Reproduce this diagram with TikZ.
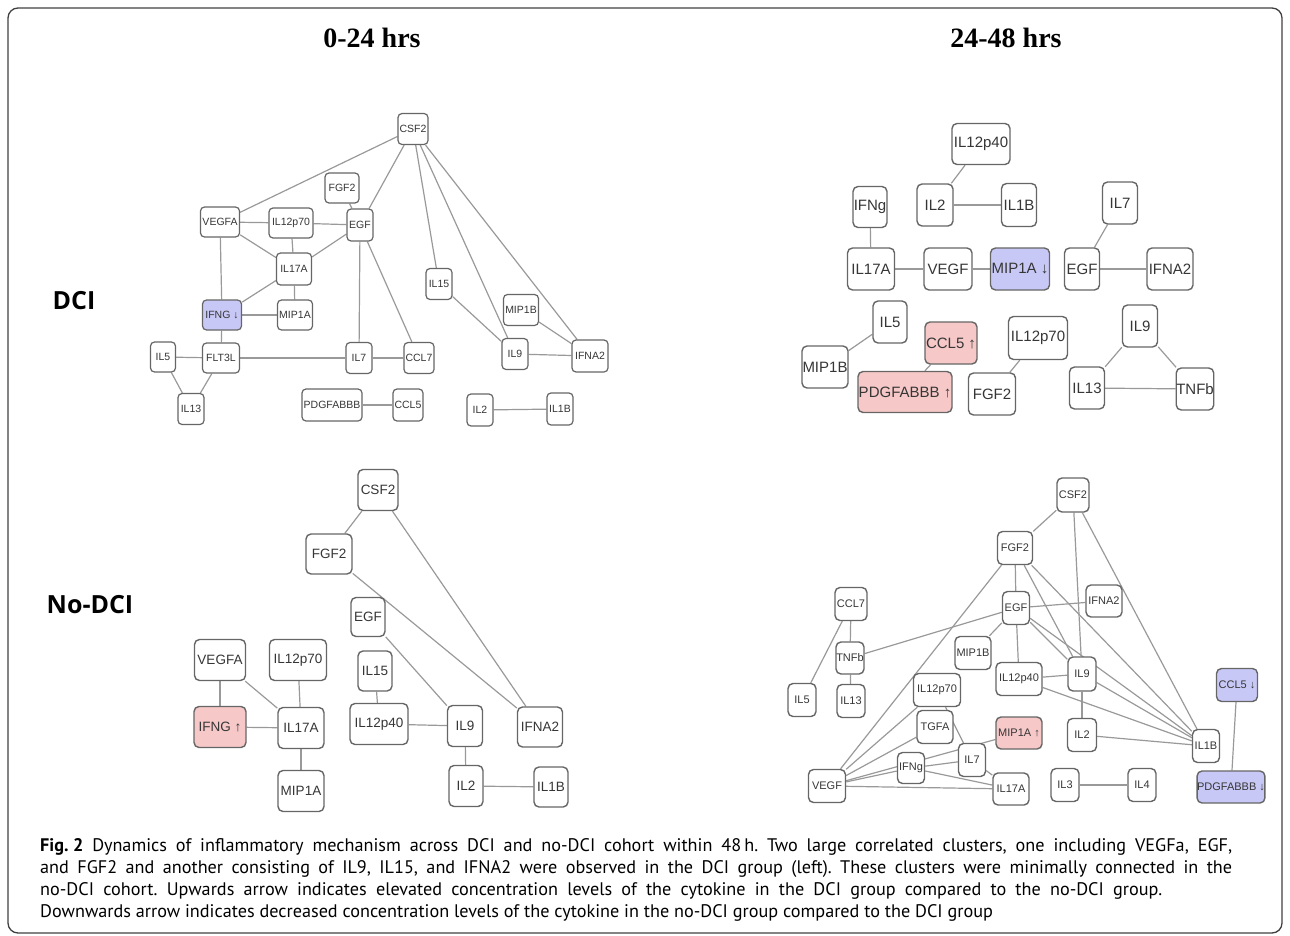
\documentclass[tikz,border=0pt]{standalone}
\usepackage{fontspec}
\setmainfont{Liberation Sans}
\newfontfamily\tnrf{Liberation Serif}
\newfontfamily\capf{PT Sans}
\newfontfamily\labf{Open Sans}
\usetikzlibrary{backgrounds}
\definecolor{ndc}{HTML}{666666}
\definecolor{edc}{HTML}{999999}
\definecolor{blu}{HTML}{C8C8F6}
\definecolor{pnk}{HTML}{F6C8C8}
\definecolor{txc}{HTML}{363636}
\newcommand{\mk}[6]{\node[nd,#1,minimum width=#4pt,minimum height=#5pt] (#2) at (#3) {#6};}
\newcommand{\ee}[2]{\draw[ed] (#1) -- (#2);}
\frenchspacing
\begin{document}
\begin{tikzpicture}[x=1pt,y=-1pt,
  nd/.style={draw=ndc, line width=1.4pt, rounded corners=5pt, fill=white, inner sep=0pt, text=txc},
  ed/.style={draw=edc, line width=1.2pt},
  ftl/.style={font=\fontsize{10.5}{12}\selectfont, line width=1.2pt, rounded corners=4pt},
  ftr/.style={font=\fontsize{15}{17}\selectfont},
  fbl/.style={font=\fontsize{13.5}{15}\selectfont},
  fbr/.style={font=\fontsize{11}{13}\selectfont},
  bl/.style={fill=blu},
  pk/.style={fill=pnk},
  hdr/.style={font=\tnrf\bfseries\fontsize{28}{30}\selectfont},
  rowlab/.style={font=\labf\bfseries\fontsize{25}{28}\selectfont},
  capl/.style={font=\capf\frenchspacing\fontsize{18.2}{21}\selectfont, anchor=base west, inner sep=0pt}
]
\useasboundingbox (0,0) rectangle (1290,936);
\draw[line width=1.3pt, draw=black!75, rounded corners=10pt] (8,8) rectangle (1282,933);

% headers and row labels
\node[hdr] (h1) at (372,38) {0-24 hrs};
\node[hdr] (h2) at (1006,38) {24-48 hrs};
\node[rowlab] (r1) at (74,301) {DCI};
\node[rowlab] (r2) at (90,605) {No-DCI};

% ---------- Panel A: DCI 0-24 ----------
\mk{ftl}{aCSF2}{413,129}{30}{31}{CSF2}
\mk{ftl}{aFGF2}{342,188}{34}{30}{FGF2}
\mk{ftl}{aVEGFA}{220,222}{39}{30}{VEGFA}
\mk{ftl}{aIL12p70}{291,223}{44}{30}{IL12p70}
\mk{ftl}{aEGF}{360,225}{26}{32}{EGF}
\mk{ftl}{aIL17A}{294,269}{35}{32}{IL17A}
\mk{ftl}{aIL15}{439,284}{26}{31}{IL15}
\mk{ftl}{aMIP1A}{295,315}{35}{30}{MIP1A}
\mk{ftl,bl}{aIFNG}{222,315}{39}{30}{IFNG ↓}
\mk{ftl}{aMIP1B}{521,310}{35}{31}{MIP1B}
\mk{ftl}{aIL7}{359,358}{26}{31}{IL7}
\mk{ftl}{aCCL7}{419,358}{30}{31}{CCL7}
\mk{ftl}{aIL9}{515,354}{26}{31}{IL9}
\mk{ftl}{aIFNA2}{590,356}{36}{32}{IFNA2}
\mk{ftl}{aPDGF}{332,405}{60}{32}{PDGFABBB}
\mk{ftl}{aCCL5}{408,405}{30}{32}{CCL5}
\mk{ftl}{aIL2}{480,410}{26}{32}{IL2}
\mk{ftl}{aIL1B}{560,409}{26}{32}{IL1B}
\mk{ftl}{aIL5}{163,357}{25}{30}{IL5}
\mk{ftl}{aFLT3L}{221,358}{37}{30}{FLT3L}
\mk{ftl}{aIL13}{191,409}{26}{31}{IL13}

% ---------- Panel B: DCI 24-48 ----------
\mk{ftr}{bIL12p40}{981,144}{58}{41}{IL12p40}
\mk{ftr}{bIL2}{935,205}{36}{42}{IL2}
\mk{ftr}{bIL1B}{1019,205}{35}{43}{IL1B}
\mk{ftr}{bIFNg}{870,207}{34}{41}{IFNg}
\mk{ftr}{bIL7}{1120,203}{35}{42}{IL7}
\mk{ftr}{bIL17A}{871,269}{47}{42}{IL17A}
\mk{ftr}{bVEGF}{948,269}{48}{42}{VEGF}
\mk{ftr,bl}{bMIP1A}{1020,269}{59}{42}{MIP1A ↓}
\mk{ftr}{bEGF}{1082,269}{35}{42}{EGF}
\mk{ftr}{bIFNA2}{1170,269}{46}{42}{IFNA2}
\mk{ftr}{bIL5}{890,322}{34}{42}{IL5}
\mk{ftr}{bMIP1B}{825,367}{46}{42}{MIP1B}
\mk{ftr,pk}{bCCL5}{951,343}{52}{42}{CCL5 ↑}
\mk{ftr,pk}{bPDGF}{905,392}{94}{41}{PDGFABBB ↑}
\mk{ftr}{bIL12p70}{1038,338}{59}{43}{IL12p70}
\mk{ftr}{bFGF2}{992,394}{47}{42}{FGF2}
\mk{ftr}{bIL9}{1140,326}{35}{42}{IL9}
\mk{ftr}{bIL13}{1087,388}{35}{42}{IL13}
\mk{ftr}{bTNFb}{1195,389}{36}{42}{TNFb}

% ---------- Panel C: No-DCI 0-24 ----------
\mk{fbl}{cCSF2}{378,490}{40}{41}{CSF2}
\mk{fbl}{cFGF2}{329,554}{46}{40}{FGF2}
\mk{fbl}{cEGF}{368,617}{34}{39}{EGF}
\mk{fbl}{cVEGFA}{220,660}{51}{41}{VEGFA}
\mk{fbl}{cIL12p70}{298,660}{57}{41}{IL12p70}
\mk{fbl,pk}{cIFNG}{220,727}{52}{41}{IFNG ↑}
\mk{fbl}{cIL17A}{301,728}{46}{41}{IL17A}
\mk{fbl}{cMIP1A}{301,791}{46}{41}{MIP1A}
\mk{fbl}{cIL15}{375,671}{34}{40}{IL15}
\mk{fbl}{cIL12p40}{379,724}{58}{41}{IL12p40}
\mk{fbl}{cIL9}{465,726}{35}{41}{IL9}
\mk{fbl}{cIFNA2}{540,727}{45}{40}{IFNA2}
\mk{fbl}{cIL2}{466,786}{34}{41}{IL2}
\mk{fbl}{cIL1B}{551,787}{34}{40}{IL1B}

% ---------- Panel D: No-DCI 24-48 ----------
\mk{fbr}{dCSF2}{1073,495}{32}{34}{CSF2}
\mk{fbr}{dFGF2}{1015,548}{35}{33}{FGF2}
\mk{fbr}{dEGF}{1016,608}{27}{33}{EGF}
\mk{fbr}{dIFNA2}{1104,601}{36}{32}{IFNA2}
\mk{fbr}{dCCL7}{851,604}{32}{33}{CCL7}
\mk{fbr}{dTNFb}{850,658}{28}{32}{TNFb}
\mk{fbr}{dIL5}{802,700}{28}{33}{IL5}
\mk{fbr}{dIL13}{851,701}{28}{33}{IL13}
\mk{fbr}{dMIP1B}{973,653}{36}{33}{MIP1B}
\mk{fbr}{dIL12p40}{1019,679}{46}{33}{IL12p40}
\mk{fbr}{dIL9}{1082,674}{28}{34}{IL9}
\mk{fbr}{dIL12p70}{937,690}{47}{33}{IL12p70}
\mk{fbr}{dTGFA}{935,727}{36}{33}{TGFA}
\mk{fbr,pk}{dMIP1A}{1019,733}{46}{32}{MIP1A ↑}
\mk{fbr}{dIL2}{1082,735}{29}{33}{IL2}
\mk{fbr}{dIL7}{972,760}{27}{33}{IL7}
\mk{fbr}{dIFNg}{911,768}{27}{31}{IFNg}
\mk{fbr}{dVEGF}{827,786}{37}{33}{VEGF}
\mk{fbr}{dIL17A}{1011,789}{36}{32}{IL17A}
\mk{fbr}{dIL3}{1065,785}{28}{33}{IL3}
\mk{fbr}{dIL4}{1142,785}{28}{33}{IL4}
\mk{fbr}{dIL1B}{1206,746}{27}{33}{IL1B}
\mk{fbr,bl}{dCCL5}{1237,685}{41}{33}{CCL5 ↓}
\mk{fbr,bl}{dPDGF}{1231,787}{63}{32}{PDGFABBB ↓}

\begin{pgfonlayer}{background}
% A edges
\ee{aCSF2}{aVEGFA}\ee{aCSF2}{aEGF}\ee{aCSF2}{aIL15}\ee{aCSF2}{aIL9}\ee{aCSF2}{aIFNA2}
\ee{aFGF2}{aEGF}\ee{aVEGFA}{aIL12p70}\ee{aIL12p70}{aEGF}\ee{aVEGFA}{aIL17A}
\ee{aIL12p70}{aIL17A}\ee{aEGF}{aIL17A}\ee{aVEGFA}{aIFNG}\ee{aIL17A}{aIFNG}
\ee{aIL17A}{aMIP1A}\ee{aIFNG}{aMIP1A}\ee{aEGF}{aIL7}\ee{aEGF}{aCCL7}
\ee{aIL15}{aIL9}\ee{aMIP1B}{aIFNA2}\ee{aIL9}{aIFNA2}\ee{aFLT3L}{aIL7}
\ee{aIL7}{aCCL7}\ee{aIL5}{aFLT3L}\ee{aIL5}{aIL13}\ee{aFLT3L}{aIL13}
\ee{aIFNG}{aFLT3L}\ee{aPDGF}{aCCL5}\ee{aIL2}{aIL1B}
% B edges
\ee{bIL12p40}{bIL2}\ee{bIL2}{bIL1B}\ee{bIFNg}{bIL17A}\ee{bIL17A}{bVEGF}
\ee{bVEGF}{bMIP1A}\ee{bIL7}{bEGF}\ee{bEGF}{bIFNA2}\ee{bIL5}{bMIP1B}
\ee{bCCL5}{bPDGF}\ee{bIL12p70}{bFGF2}\ee{bIL9}{bIL13}\ee{bIL9}{bTNFb}\ee{bIL13}{bTNFb}
% C edges
\ee{cCSF2}{cFGF2}\ee{cCSF2}{cIFNA2}\ee{cFGF2}{cIFNA2}\ee{cEGF}{cIL9}
\ee{cVEGFA}{cIFNG}\ee{cVEGFA}{cIL17A}\ee{cIL12p70}{cIL17A}\ee{cIFNG}{cIL17A}
\ee{cIL17A}{cMIP1A}\ee{cIL15}{cIL12p40}\ee{cIL12p40}{cIL9}\ee{cIL9}{cIL2}\ee{cIL2}{cIL1B}
% D edges
\ee{dCSF2}{dFGF2}\ee{dCSF2}{dIL9}\ee{dCSF2}{dIL1B}\ee{dFGF2}{dEGF}\ee{dFGF2}{dIL9}
\ee{dFGF2}{dIL1B}\ee{dFGF2}{dVEGF}\ee{dEGF}{dTNFb}\ee{dEGF}{dIFNA2}\ee{dEGF}{dMIP1B}
\ee{dEGF}{dIL12p40}\ee{dEGF}{dIL9}\ee{dEGF}{dIL1B}\ee{dCCL7}{dTNFb}\ee{dCCL7}{dIL5}
\ee{dTNFb}{dIL13}\ee{dIL12p40}{dIL9}\ee{dIL12p40}{dIL1B}\ee{dIL9}{dIL2}\ee{dIL9}{dIL1B}
\ee{dIL2}{dIL1B}\ee{dVEGF}{dIL12p70}\ee{dVEGF}{dTGFA}\ee{dVEGF}{dIFNg}\ee{dVEGF}{dMIP1A}
\ee{dVEGF}{dIL17A}\ee{dIFNg}{dIL7}\ee{dIFNg}{dIL17A}\ee{dIL12p70}{dIL7}\ee{dIL7}{dIL17A}
\ee{dCCL5}{dPDGF}\ee{dIL3}{dIL4}
\end{pgfonlayer}

% caption
\node[capl] (c1) at (40,851) {\makebox[1192pt][s]{\textbf{\mbox{Fig. 2}} Dynamics of inflammatory mechanism across DCI and no-DCI cohort within 48\,h. Two large correlated clusters, one including VEGFa, EGF,}};
\node[capl] (c2) at (40,873) {\makebox[1192pt][s]{and FGF2 and another consisting of IL9, IL15, and IFNA2 were observed in the DCI group (left). These clusters were minimally connected in the}};
\node[capl] (c3) at (40,895) {\makebox[1122pt][s]{no-DCI cohort. Upwards arrow indicates elevated concentration levels of the cytokine in the DCI group compared to the no-DCI group.}};
\node[capl] (c4) at (40,917) {Downwards arrow indicates decreased concentration levels of the cytokine in the no-DCI group compared to the DCI group};
\end{tikzpicture}
\end{document}
